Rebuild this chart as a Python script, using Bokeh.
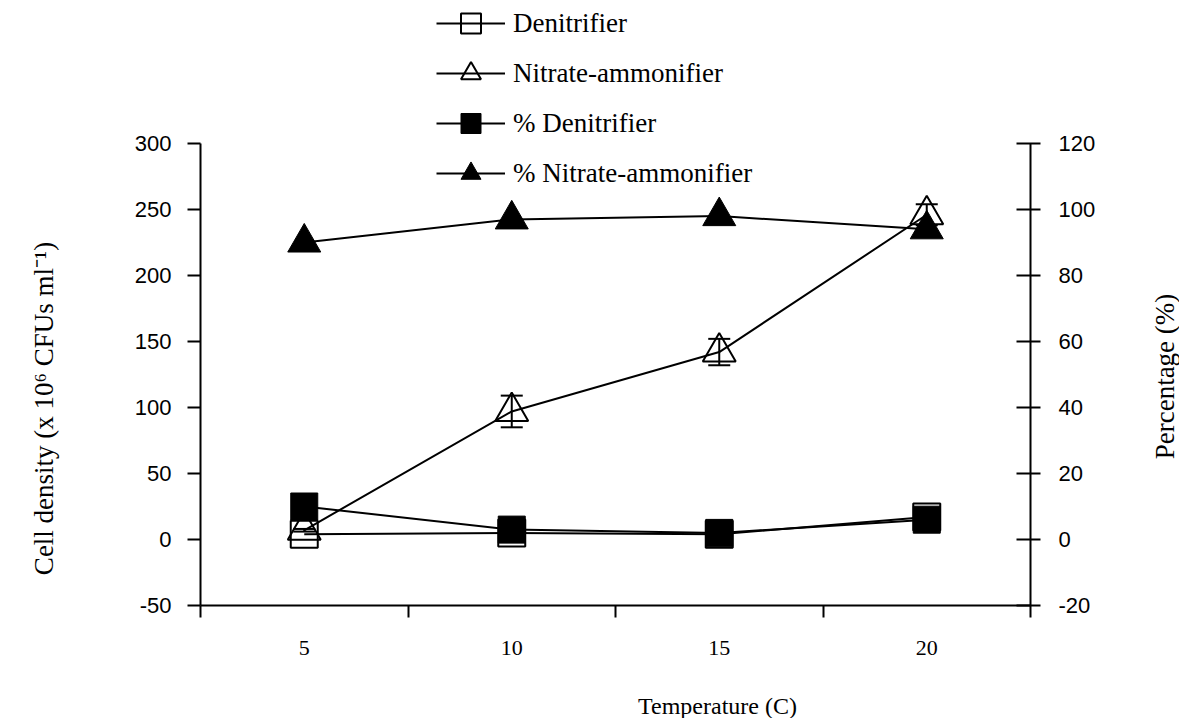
import math
from bokeh.plotting import figure
from bokeh.models import (Range1d, LinearAxis, FixedTicker, Legend, LegendItem,
                          Whisker, TeeHead, ColumnDataSource, Label)
from bokeh.embed import file_html
from bokeh.resources import INLINE

# ---- data ----
temps = [5, 10, 15, 20]
denitrifier = [4, 5, 4, 17]
nitrate_amm = [7, 97, 142, 246]
nitrate_err = [1, 12, 10, 8]
pct_denitrifier = [10, 3, 2, 6]
pct_nitrate_amm = [90, 97, 98, 94]

left_ticks = [-50, 0, 50, 100, 150, 200, 250, 300]
right_ticks = [-20, 0, 20, 40, 60, 80, 100, 120]
x_boundaries = [2.5, 7.5, 12.5, 17.5, 22.5]

x_title = "Temperature (C)"
left_title = "Cell density (x 10\u2076 CFUs ml\u207b\u00b9)"
right_title = "Percentage (%)"

SERIF = "Liberation Serif"
SANS = "Liberation Sans"

W, H = 1179, 718
# frame covers whole canvas; axes drawn at fixed locations
# x: 2.5 -> 200px, 22.5 -> 1030px ; y(left): -50 -> 605px, 300 -> 143px
xpx = (1030 - 200) / (22.5 - 2.5)
ypx = (605 - 143) / (300 - (-50))
ypx_r = (605 - 143) / (120 - (-20))

p = figure(width=W, height=H, output_backend="svg", toolbar_location=None,
           x_range=Range1d(2.5 - 200 / xpx, 22.5 + (W - 1030) / xpx),
           y_range=Range1d(-50 - (H - 605) / ypx, 300 + 143 / ypx),
           x_axis_location=None, y_axis_location=None,
           min_border=0, min_border_left=0, min_border_right=0,
           min_border_top=0, min_border_bottom=0)
p.outline_line_color = None
p.background_fill_color = "white"
p.border_fill_color = "white"
p.grid.visible = False
p.extra_y_ranges = {"pct": Range1d(-20 - (H - 605) / ypx_r, 120 + 143 / ypx_r)}

# x axis: labels at temperatures, tick marks at category boundaries
xaxis = LinearAxis(ticker=FixedTicker(ticks=temps, minor_ticks=x_boundaries),
                   fixed_location=-50, bounds=(2.5, 22.5))
xaxis.axis_line_width = 2
xaxis.axis_line_color = "black"
xaxis.major_tick_line_color = None
xaxis.major_tick_out = 0
xaxis.major_tick_in = 0
xaxis.minor_tick_out = 12
xaxis.minor_tick_in = 0
xaxis.minor_tick_line_width = 2
xaxis.minor_tick_line_color = "black"
xaxis.major_label_text_font = SERIF
xaxis.major_label_text_font_size = "22px"
xaxis.major_label_text_color = "black"
xaxis.major_label_standoff = 23
p.add_layout(xaxis, "below")

# left axis
yl = LinearAxis(ticker=FixedTicker(ticks=left_ticks), bounds=(-50, 300),
                fixed_location=2.5)
yl.axis_line_width = 2
yl.axis_line_color = "black"
yl.major_tick_out = 13
yl.major_tick_in = 0
yl.major_tick_line_width = 2
yl.minor_tick_line_color = None
yl.major_label_text_font = SANS
yl.major_label_text_font_size = "22px"
yl.major_label_text_color = "black"
yl.major_label_standoff = 16
yl.major_label_overrides = {-50: "-50"}
p.add_layout(yl, "left")

# right axis
yr = LinearAxis(y_range_name="pct", ticker=FixedTicker(ticks=right_ticks),
                bounds=(-20, 120), fixed_location=22.5)
yr.axis_line_width = 2
yr.axis_line_color = "black"
yr.major_tick_out = 10
yr.major_tick_in = 14
yr.major_tick_line_width = 2
yr.minor_tick_line_color = None
yr.major_label_text_font = SANS
yr.major_label_text_font_size = "22px"
yr.major_label_text_color = "black"
yr.major_label_standoff = 18
yr.major_label_overrides = {-20: "-20"}
p.add_layout(yr, "right")

# axis titles (screen units, y measured up from the bottom of the canvas)
for txt, sx, sy, ang, fs in [
    (left_title, 43, H - 408, math.pi / 2, "27px"),
    (right_title, 1164, H - 376, math.pi / 2, "27px"),
    (x_title, 717, H - 705, 0, "24px"),
]:
    p.add_layout(Label(x=sx, y=sy, x_units="screen", y_units="screen", text=txt,
                       angle=ang, text_align="center", text_baseline="middle",
                       text_font=SERIF, text_font_size=fs, text_color="black"))

SQ = 27
TRI = 33
# Denitrifier (hollow squares)
l1 = p.line(temps, denitrifier, line_color="black", line_width=2)
s1 = p.scatter(temps, denitrifier, marker="square", size=SQ, fill_alpha=0,
               line_color="black", line_width=2)

# Nitrate-ammonifier (hollow triangles) with error bars
l2 = p.line(temps, nitrate_amm, line_color="black", line_width=2)
s2 = p.scatter(temps, nitrate_amm, marker="triangle", size=TRI, fill_alpha=0,
               line_color="black", line_width=2)
err_src = ColumnDataSource(dict(
    x=temps,
    upper=[v + e for v, e in zip(nitrate_amm, nitrate_err)],
    lower=[v - e for v, e in zip(nitrate_amm, nitrate_err)],
))
wh = Whisker(base="x", upper="upper", lower="lower", source=err_src,
             line_color="black", line_width=2,
             upper_head=TeeHead(size=22, line_width=2, line_color="black"),
             lower_head=TeeHead(size=22, line_width=2, line_color="black"))
p.add_layout(wh)

# % Denitrifier (filled squares, right axis)
l3 = p.line(temps, pct_denitrifier, y_range_name="pct", line_color="black", line_width=2)
s3 = p.scatter(temps, pct_denitrifier, y_range_name="pct", marker="square", size=SQ,
               fill_color="black", line_color="black", line_width=1)

# % Nitrate-ammonifier (filled triangles, right axis)
l4 = p.line(temps, pct_nitrate_amm, y_range_name="pct", line_color="black", line_width=2)
s4 = p.scatter(temps, pct_nitrate_amm, y_range_name="pct", marker="triangle", size=TRI,
               fill_color="black", line_color="black", line_width=1)

legend = Legend(items=[
    LegendItem(label="Denitrifier", renderers=[l1, s1]),
    LegendItem(label="Nitrate-ammonifier", renderers=[l2, s2]),
    LegendItem(label="% Denitrifier", renderers=[l3, s3]),
    LegendItem(label="% Nitrate-ammonifier", renderers=[l4, s4]),
], location=(436, H - 198))
legend.glyph_width = 69
legend.glyph_height = 50
legend.label_height = 50
legend.label_standoff = 8
legend.spacing = 0
legend.padding = 0
legend.margin = 0
legend.border_line_color = None
legend.background_fill_alpha = 0
legend.label_text_font = SERIF
legend.label_text_font_size = "27px"
legend.label_text_color = "black"
p.add_layout(legend)

open("out.html", "w").write(file_html(p, INLINE))
